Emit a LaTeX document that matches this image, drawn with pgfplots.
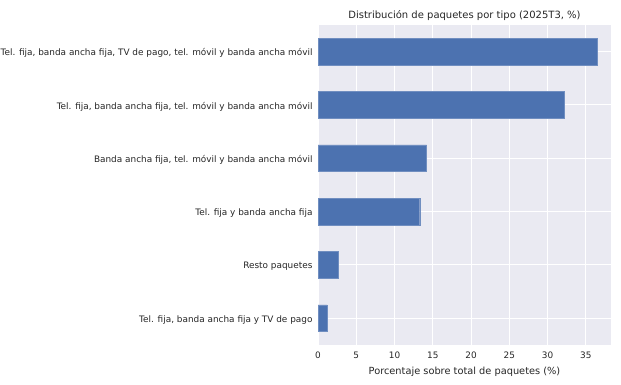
\documentclass[border=0pt]{standalone}
\usepackage{pgfplots}
\pgfplotsset{compat=1.18}
\usepackage{fontspec}
\setmainfont{DejaVu Sans}
\definecolor{bgc}{HTML}{EAEAF2}
\definecolor{barc}{HTML}{4C72B0}
\definecolor{txt}{HTML}{262626}
\begin{document}
\begin{tikzpicture}
\useasboundingbox (0,0) rectangle (621pt,385pt);
\begin{axis}[
  at={(318pt,40pt)}, anchor=south west,
  scale only axis, width=293pt, height=320pt,
  xmin=0, xmax=38.3, ymin=-0.5, ymax=5.5,
  axis background/.style={fill=bgc},
  axis line style={draw=none},
  major tick length=0pt,
  grid=major,
  major grid style={white, line width=1pt},
  xtick={0,5,...,35},
  ytick={0,...,5},
  yticklabels={{Tel. fija, banda ancha fija y TV de pago}, {Resto paquetes}, {Tel. fija y banda ancha fija}, {Banda ancha fija, tel. móvil y banda ancha móvil}, {Tel. fija, banda ancha fija, tel. móvil y banda ancha móvil}, {Tel. fija, banda ancha fija, TV de pago, tel. móvil y banda ancha móvil}},
  /pgf/number format/assume math mode=true,
  tick label style={font=\fontsize{8.9}{10}\selectfont, text=txt},
  yticklabel style={xshift=-2pt, yshift=-1.5pt},
  xticklabel style={yshift=-3pt},
  xlabel={Porcentaje sobre total de paquetes (\%)},
  xlabel style={font=\fontsize{9.8}{11}\selectfont, text=txt, yshift=-2pt},
  title={Distribución de paquetes por tipo (2025T3, \%)},
  title style={font=\fontsize{10}{12}\selectfont, text=txt, yshift=-5pt},
  clip=false,
]
\addplot[xbar, bar width=0.5, fill=barc, draw=barc!80!white, line width=0.4pt] coordinates {
  (1.2,0) (2.7,1) (13.3,2) (14.2,3) (32.2,4) (36.5,5)
};
\end{axis}
\end{tikzpicture}
\end{document}
